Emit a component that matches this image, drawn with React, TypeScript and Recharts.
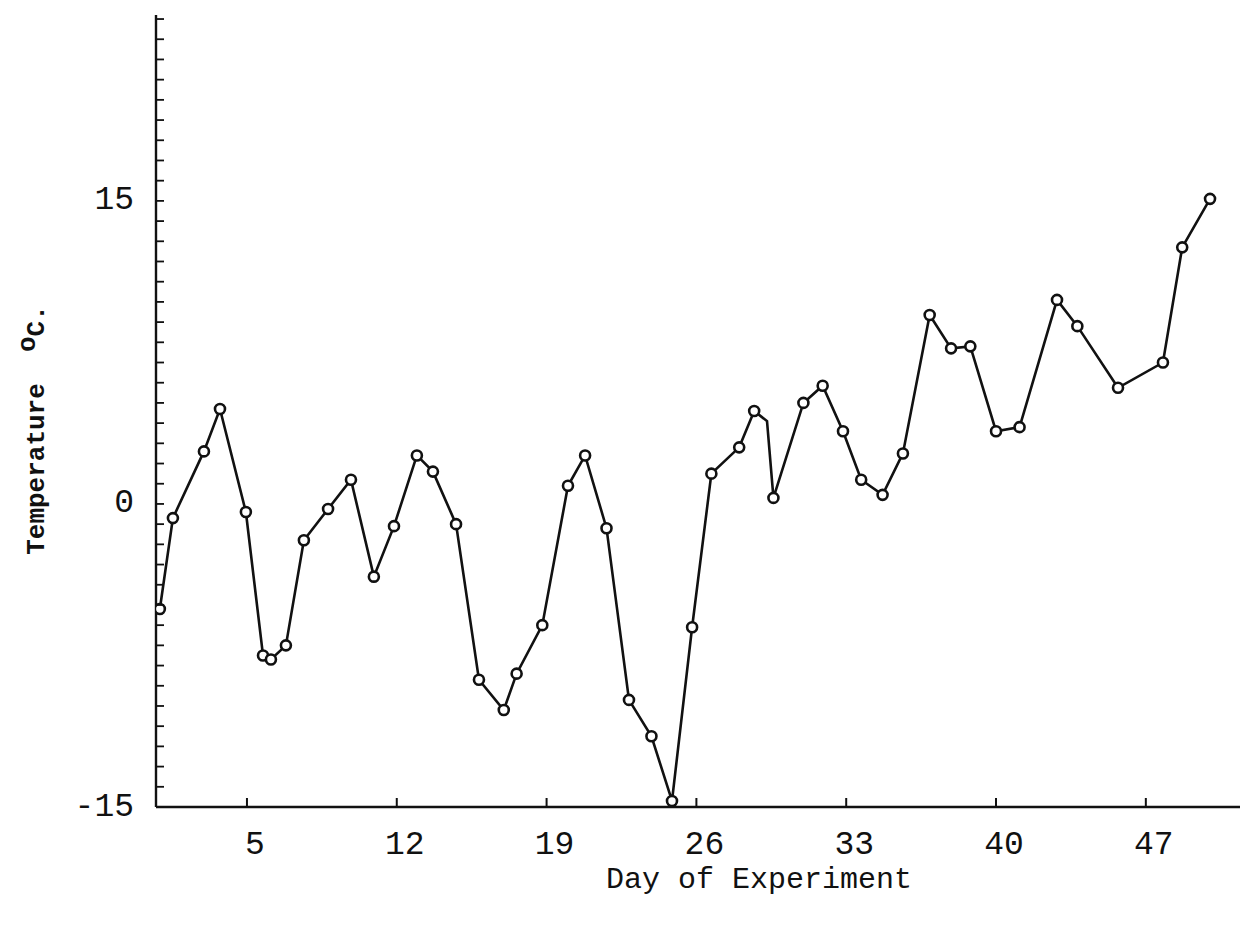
import React from "react";
import { LineChart, Line, XAxis, YAxis } from "recharts";

// Day of experiment (as plotted) and temperature (°C)
const days = [0.93, 1.54, 2.99, 3.74, 4.95, 5.75, 6.12, 6.82, 7.66, 8.79, 9.86, 10.93, 11.87, 12.94, 13.69, 14.77, 15.84, 17.0, 17.6, 18.8, 20.0, 20.8, 21.8, 22.85, 23.9, 24.86, 25.8, 26.7, 28.0, 28.7, 29.3, 29.6, 31.0, 31.9, 32.85, 33.7, 34.7, 35.65, 36.9, 37.9, 38.8, 40.0, 41.1, 42.85, 43.8, 45.7, 47.8, 48.7, 50.0];
const temps = [-5.2, -0.7, 2.6, 4.7, -0.4, -7.5, -7.7, -7.0, -1.8, -0.25, 1.2, -3.6, -1.1, 2.4, 1.6, -1.0, -8.7, -10.2, -8.4, -6.0, 0.9, 2.4, -1.2, -9.7, -11.5, -14.7, -6.1, 1.5, 2.8, 4.6, 4.1, 0.3, 5.0, 5.85, 3.6, 1.2, 0.45, 2.5, 9.35, 7.7, 7.8, 3.6, 3.8, 10.1, 8.8, 5.75, 7.0, 12.7, 15.1];
// points drawn as a bend of the line without a circle
const unmarkedDays = [29.3];

const xTicks = [5, 12, 19, 26, 33, 40, 47];
const yTickLabels = [-15, 0, 15];
const yMinorTicks: number[] = [];
for (let v = -15; v <= 24; v++) yMinorTicks.push(v);

const xTitle = "Day of Experiment";
const yTitle = "Temperature";

const data = days.map((d, i) => ({ day: d, temp: temps[i] }));

const FONT = "'Liberation Mono', 'DejaVu Sans Mono', monospace";
const INK = "#111";

const XTick = (props: any) => {
  const { x, y, payload } = props;
  return (
    <g>
      <line x1={x} y1={y} x2={x} y2={y - 9} stroke={INK} strokeWidth={2} />
      <text x={x + 8} y={y + 38} textAnchor="middle" dominantBaseline="central" fontFamily={FONT} fontSize={33} fill={INK}>
        {payload.value}
      </text>
    </g>
  );
};

const YTick = (props: any) => {
  const { x, y, payload } = props;
  const show = yTickLabels.includes(payload.value);
  return (
    <g>
      <line x1={x} y1={y} x2={x + 8} y2={y} stroke={INK} strokeWidth={1.8} />
      {show && (
        <text x={x - 22} y={y} textAnchor="end" dominantBaseline="central" fontFamily={FONT} fontSize={33} fill={INK}>
          {payload.value}
        </text>
      )}
    </g>
  );
};

const XTitle = () => (
  <text x={751} y={872} textAnchor="middle" dominantBaseline="central" fontFamily={FONT} fontSize={30} fill={INK}>
    {xTitle}
  </text>
);

const YTitle = () => (
  <text
    x={29}
    y={422}
    transform="rotate(-90, 29, 422)"
    textAnchor="middle"
    dominantBaseline="central"
    fontFamily={FONT}
    fontSize={26}
    fontWeight="bold"
    fill={INK}
    style={{ whiteSpace: "pre" }}
  >
    {yTitle + "  "}
    <tspan dy={-9}>o</tspan>
    <tspan dy={9}>C.</tspan>
  </text>
);

const renderDot = (props: any) => {
  const { cx, cy, index, payload } = props;
  if (unmarkedDays.includes(payload.day)) return <g key={`d${index}`} />;
  return <circle key={`d${index}`} cx={cx} cy={cy} r={5} fill="#fff" stroke={INK} strokeWidth={2.6} />;
};

export default function App() {
  return (
    <div style={{ width: 1233, height: 925, background: "#fff" }}>
      <LineChart width={1233} height={925} data={data} margin={{ top: 7, right: 1, bottom: 16, left: 0 }}>
        <XAxis
          dataKey="day"
          type="number"
          domain={[0.75, 51.4]}
          ticks={xTicks}
          interval={0}
          tickSize={0}
          tickMargin={0}
          tick={<XTick />}
          axisLine={{ stroke: INK, strokeWidth: 2.4 }}
          tickLine={false}
          height={110}
          allowDataOverflow
          label={<XTitle />}
        />
        <YAxis
          type="number"
          domain={[-15, 24.2]}
          ticks={yMinorTicks}
          interval={0}
          tickSize={0}
          tickMargin={0}
          tick={<YTick />}
          axisLine={{ stroke: INK, strokeWidth: 2.4 }}
          tickLine={false}
          width={148}
          allowDataOverflow
          label={<YTitle />}
        />
        <Line
          type="linear"
          dataKey="temp"
          stroke={INK}
          strokeWidth={2.6}
          dot={renderDot}
          activeDot={false}
          isAnimationActive={false}
        />
      </LineChart>
    </div>
  );
}
